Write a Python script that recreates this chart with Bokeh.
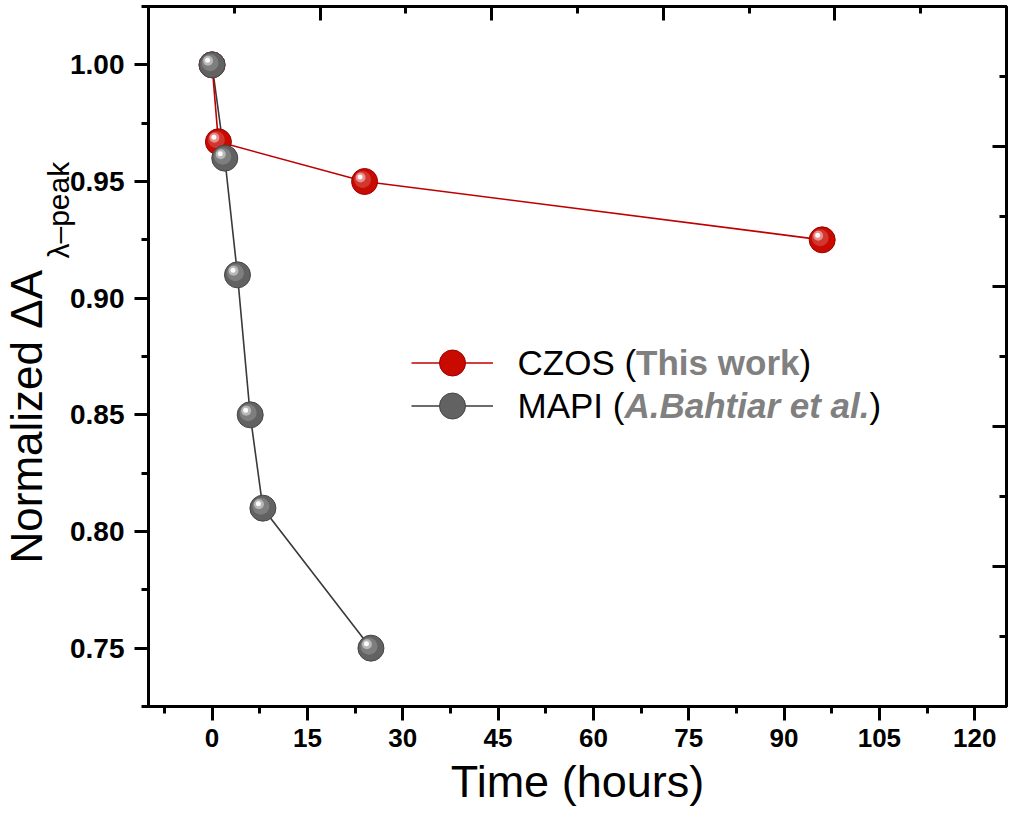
import math
from bokeh.plotting import figure
from bokeh.models import (Range1d, LinearAxis, FixedTicker, SingleIntervalTicker,
                          PrintfTickFormatter, CustomJSTickFormatter, Label, Title,
                          Legend, LegendItem, ColumnDataSource)
from bokeh.transform import dodge
from bokeh.embed import file_html
from bokeh.resources import INLINE

# ---- data ----
czos_time = [0, 1, 24, 96]
czos_value = [1.000, 0.967, 0.950, 0.925]
mapi_time = [0, 2, 4, 6, 8, 25]
mapi_value = [1.000, 0.960, 0.910, 0.850, 0.810, 0.750]

czos_name = "CZOS"
czos_ref = "This work"
mapi_name = "MAPI"
mapi_ref = "A.Bahtiar et al."
x_title = "Time (hours)"
y_title = "Normalized ΔA"
y_sub = "λ–peak"

X0, X1 = -10, 125
Y0, Y1 = 0.725, 1.025
W, H = 1008, 814
BL, BR, BT, BB = 148, 2, 6, 108
FONT = "Liberation Sans"

p = figure(width=W, height=H, x_range=Range1d(X0, X1), y_range=Range1d(Y0, Y1),
           output_backend="svg", toolbar_location=None,
           min_border_left=BL, min_border_right=BR, min_border_top=BT,
           min_border_bottom=BB)
p.background_fill_color = "white"
p.border_fill_color = "white"
p.xgrid.visible = False
p.ygrid.visible = False
p.outline_line_color = "black"
p.outline_line_width = 3

xa = p.xaxis[0]
ya = p.yaxis[0]
xa.ticker = SingleIntervalTicker(interval=15, num_minor_ticks=2)
ya.ticker = SingleIntervalTicker(interval=0.05, num_minor_ticks=2)
ya.formatter = PrintfTickFormatter(format="%.2f")
for ax in (xa, ya):
    ax.axis_line_width = 3
    ax.axis_line_color = "black"
    ax.major_tick_line_width = 3
    ax.minor_tick_line_width = 3
    ax.major_tick_out = 14
    ax.major_tick_in = 0
    ax.minor_tick_out = 7
    ax.minor_tick_in = 0
    ax.major_label_text_font = FONT
    ax.major_label_text_font_style = "bold"
    ax.major_label_text_color = "black"
xa.major_label_text_font_size = "26px"
ya.major_label_text_font_size = "28px"
xa.major_label_standoff = 8
ya.major_label_standoff = 10
xa.axis_label = x_title
xa.axis_label_text_font = FONT
xa.axis_label_text_font_style = "normal"
xa.axis_label_text_font_size = "45px"
xa.axis_label_text_color = "black"
xa.axis_label_standoff = 6

# top and right frame axes (ticks only, pointing inward)
p.extra_x_ranges = {"fx": Range1d(0, 1)}
p.extra_y_ranges = {"fy": Range1d(0, 1)}
blank = CustomJSTickFormatter(code="return ''")
top = LinearAxis(x_range_name="fx",
                 ticker=FixedTicker(ticks=[0.2, 0.4, 0.6, 0.8], minor_ticks=[0.1, 0.3, 0.5, 0.7, 0.9]),
                 formatter=blank)
right = LinearAxis(y_range_name="fy",
                   ticker=FixedTicker(ticks=[0.2, 0.4, 0.6, 0.8], minor_ticks=[0.1, 0.3, 0.5, 0.7, 0.9]),
                   formatter=blank)
for ax in (top, right):
    ax.axis_line_width = 3
    ax.major_tick_line_width = 3
    ax.minor_tick_line_width = 3
    ax.major_tick_in = 14
    ax.major_tick_out = 0
    ax.minor_tick_in = 7
    ax.minor_tick_out = 0
    ax.major_label_text_font_size = "1px"
    ax.major_label_standoff = 0
p.add_layout(top, "above")
p.add_layout(right, "right")

src_c = ColumnDataSource(dict(x=czos_time, y=czos_value))
src_m = ColumnDataSource(dict(x=mapi_time, y=mapi_value))

RED, RED_EDGE = "#c80a00", "#9a0000"
GRAY, GRAY_EDGE = "#626262", "#454545"

gline = p.line("x", "y", source=src_m, line_color="#3a3a3a", line_width=1.6)
rline = p.line("x", "y", source=src_c, line_color="#c00000", line_width=1.6)

# pixel offsets for the specular highlight, converted to data units
fw = W - BL - BR
fh = H - BT - BB
px_x = (X1 - X0) / fw
px_y = (Y1 - Y0) / fh


def sphere(src, body, edge):
    base = p.scatter("x", "y", source=src, marker="circle", size=26,
                     fill_color=body, line_color=edge, line_width=1)
    p.scatter(dodge("x", -2 * px_x, range=p.x_range), dodge("y", 2 * px_y, range=p.y_range),
              source=src, marker="circle", size=17, fill_color="white", fill_alpha=0.18,
              line_color=None)
    p.scatter(dodge("x", -4 * px_x, range=p.x_range), dodge("y", 4 * px_y, range=p.y_range),
              source=src, marker="circle", size=10, fill_color="white", fill_alpha=0.45,
              line_color=None)
    p.scatter(dodge("x", -4.5 * px_x, range=p.x_range), dodge("y", 4.5 * px_y, range=p.y_range),
              source=src, marker="circle", size=5, fill_color="white", fill_alpha=0.95,
              line_color=None)
    return base


rpts = sphere(src_c, RED, RED_EDGE)
gpts = sphere(src_m, GRAY, GRAY_EDGE)

# frame-relative legend geometry (one legend per row)
frame_bottom = H - BB
GH = 65
for (ln, pt, cy) in ((rline, rpts, 362), (gline, gpts, 405)):
    lg = Legend(items=[LegendItem(label=" ", renderers=[ln, pt])],
                location=(411 - BL, frame_bottom - (cy + GH / 2)), glyph_width=82,
                glyph_height=GH, spacing=0, padding=0, margin=0, label_width=1,
                label_standoff=0, label_text_font_size="1px",
                background_fill_alpha=0, border_line_alpha=0)
    p.add_layout(lg)

FS = 35
em = FS
LX = 517 - BL


def lab(text, x, y, style="normal", color="black", size=FS):
    p.add_layout(Label(x=x, y=y, x_units="screen", y_units="screen", text=text,
                       text_font=FONT, text_font_style=style, text_color=color,
                       text_font_size=f"{size}px", text_align="left",
                       text_baseline="middle"))


r1y, r2y = frame_bottom - 362, frame_bottom - 405
lab(czos_name, LX, r1y)
lab("(", LX + 3.056 * em, r1y)
lab(czos_ref, LX + 3.389 * em, r1y, style="bold", color="#808080")
lab(")", LX + 8.057 * em, r1y)
lab(mapi_name, LX, r2y)
lab("(", LX + 2.723 * em, r2y)
lab(mapi_ref, LX + 3.056 * em, r2y, style="bold italic", color="#808080")
lab(")", LX + 10.058 * em, r2y)

# y-axis title with subscript, as side titles
sub_t = Title(text=y_sub, align="left", offset=frame_bottom - 258, standoff=-15,
              text_font=FONT, text_font_style="normal", text_font_size="30px",
              text_color="black")
main_t = Title(text=y_title, align="left", offset=frame_bottom - 563, standoff=-6,
               text_font=FONT, text_font_style="normal", text_font_size="44px",
               text_color="black")
p.add_layout(sub_t, "left")
p.add_layout(main_t, "left")

open("out.html", "w").write(file_html(p, INLINE))
